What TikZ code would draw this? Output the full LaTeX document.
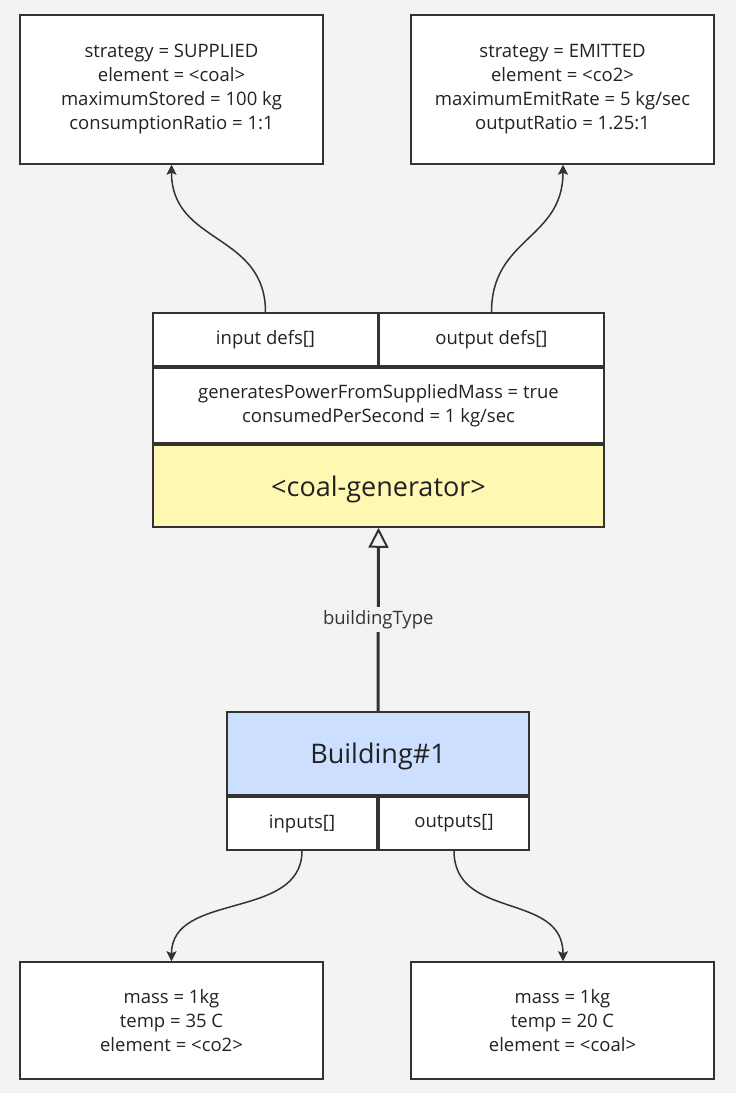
\documentclass[tikz,border=0pt]{standalone}
\usepackage{fontspec}
\setmainfont{Open Sans}
\usetikzlibrary{arrows.meta}
\definecolor{bg}{HTML}{F3F3F3}
\definecolor{edge}{HTML}{333333}
\definecolor{yel}{HTML}{FFF8B3}
\definecolor{blu}{HTML}{CCDFFF}
\definecolor{txt}{HTML}{222222}
\tikzset{
  box/.style={draw=edge, line width=1.5pt, fill=white, inner sep=0pt, align=center, text=txt,
    font=\fontsize{18.5}{24}\selectfont},
  conn/.style={draw=edge, line width=1.5pt, -{Stealth[length=10pt,width=10pt,inset=2pt]}},
}
\begin{document}
\begin{tikzpicture}[x=1pt,y=-1pt]
\fill[bg] (0,0) rectangle (736,1093);
\useasboundingbox (0,0) rectangle (736,1093);
\node[box, minimum width=303, minimum height=149] (tl) at (171.5,89.5)
  {strategy = SUPPLIED\\element = <coal>\\maximumStored = 100 kg\\consumptionRatio = 1:1};
\node[box, minimum width=303, minimum height=149] (tr) at (562.5,89.5)
  {strategy = EMITTED\\element = <co2>\\maximumEmitRate = 5 kg/sec\\outputRatio = 1.25:1};
\node[box, minimum width=225, minimum height=53] (indefs) at (265.5,339.5) {input defs[]};
\node[box, minimum width=225, minimum height=53] (outdefs) at (491.5,339.5) {output defs[]};
\node[box, minimum width=451, minimum height=75] (props) at (378.5,405.5)
  {generatesPowerFromSuppliedMass = true\\consumedPerSecond = 1 kg/sec};
\node[box, fill=yel, minimum width=451, minimum height=82, font=\fontsize{27}{32}\selectfont, text depth=0pt] (gen) at (378.5,486) {<coal-generator>};
\node[box, fill=blu, minimum width=302, minimum height=83, font=\fontsize{27}{32}\selectfont, text depth=0pt] (bld) at (378,753.5) {Building\#1};
\node[box, minimum width=150, minimum height=53] (ins) at (302,823.5) {inputs[]};
\node[box, minimum width=150, minimum height=53] (outs) at (454,823.5) {outputs[]};
\node[box, minimum width=303, minimum height=117] (bl) at (171.5,1020.5)
  {mass = 1kg\\temp = 35 C\\element = <co2>};
\node[box, minimum width=303, minimum height=117] (br) at (562.5,1020.5)
  {mass = 1kg\\temp = 20 C\\element = <coal>};
\draw[conn] (indefs.north) .. controls +(0,-80) and +(0,80) .. (tl.south);
\draw[conn] (outdefs.north) .. controls +(0,-75) and +(0,75) .. (tr.south-|563,0);
\draw[conn] (ins.south) .. controls +(0,70) and +(0,-70) .. (bl.north);
\draw[conn] (outs.south) .. controls +(0,70) and +(0,-70) .. (br.north-|563,0);
\draw[draw=edge, line width=3pt, -{Triangle[open, length=20pt, width=20pt, line width=2pt]}] (bld.north) -- (gen.south)
  node[pos=0.5, fill=bg, inner sep=3pt, text=edge, font=\fontsize{18.5}{22}\selectfont] (lbl) {buildingType};
\end{tikzpicture}
\end{document}
